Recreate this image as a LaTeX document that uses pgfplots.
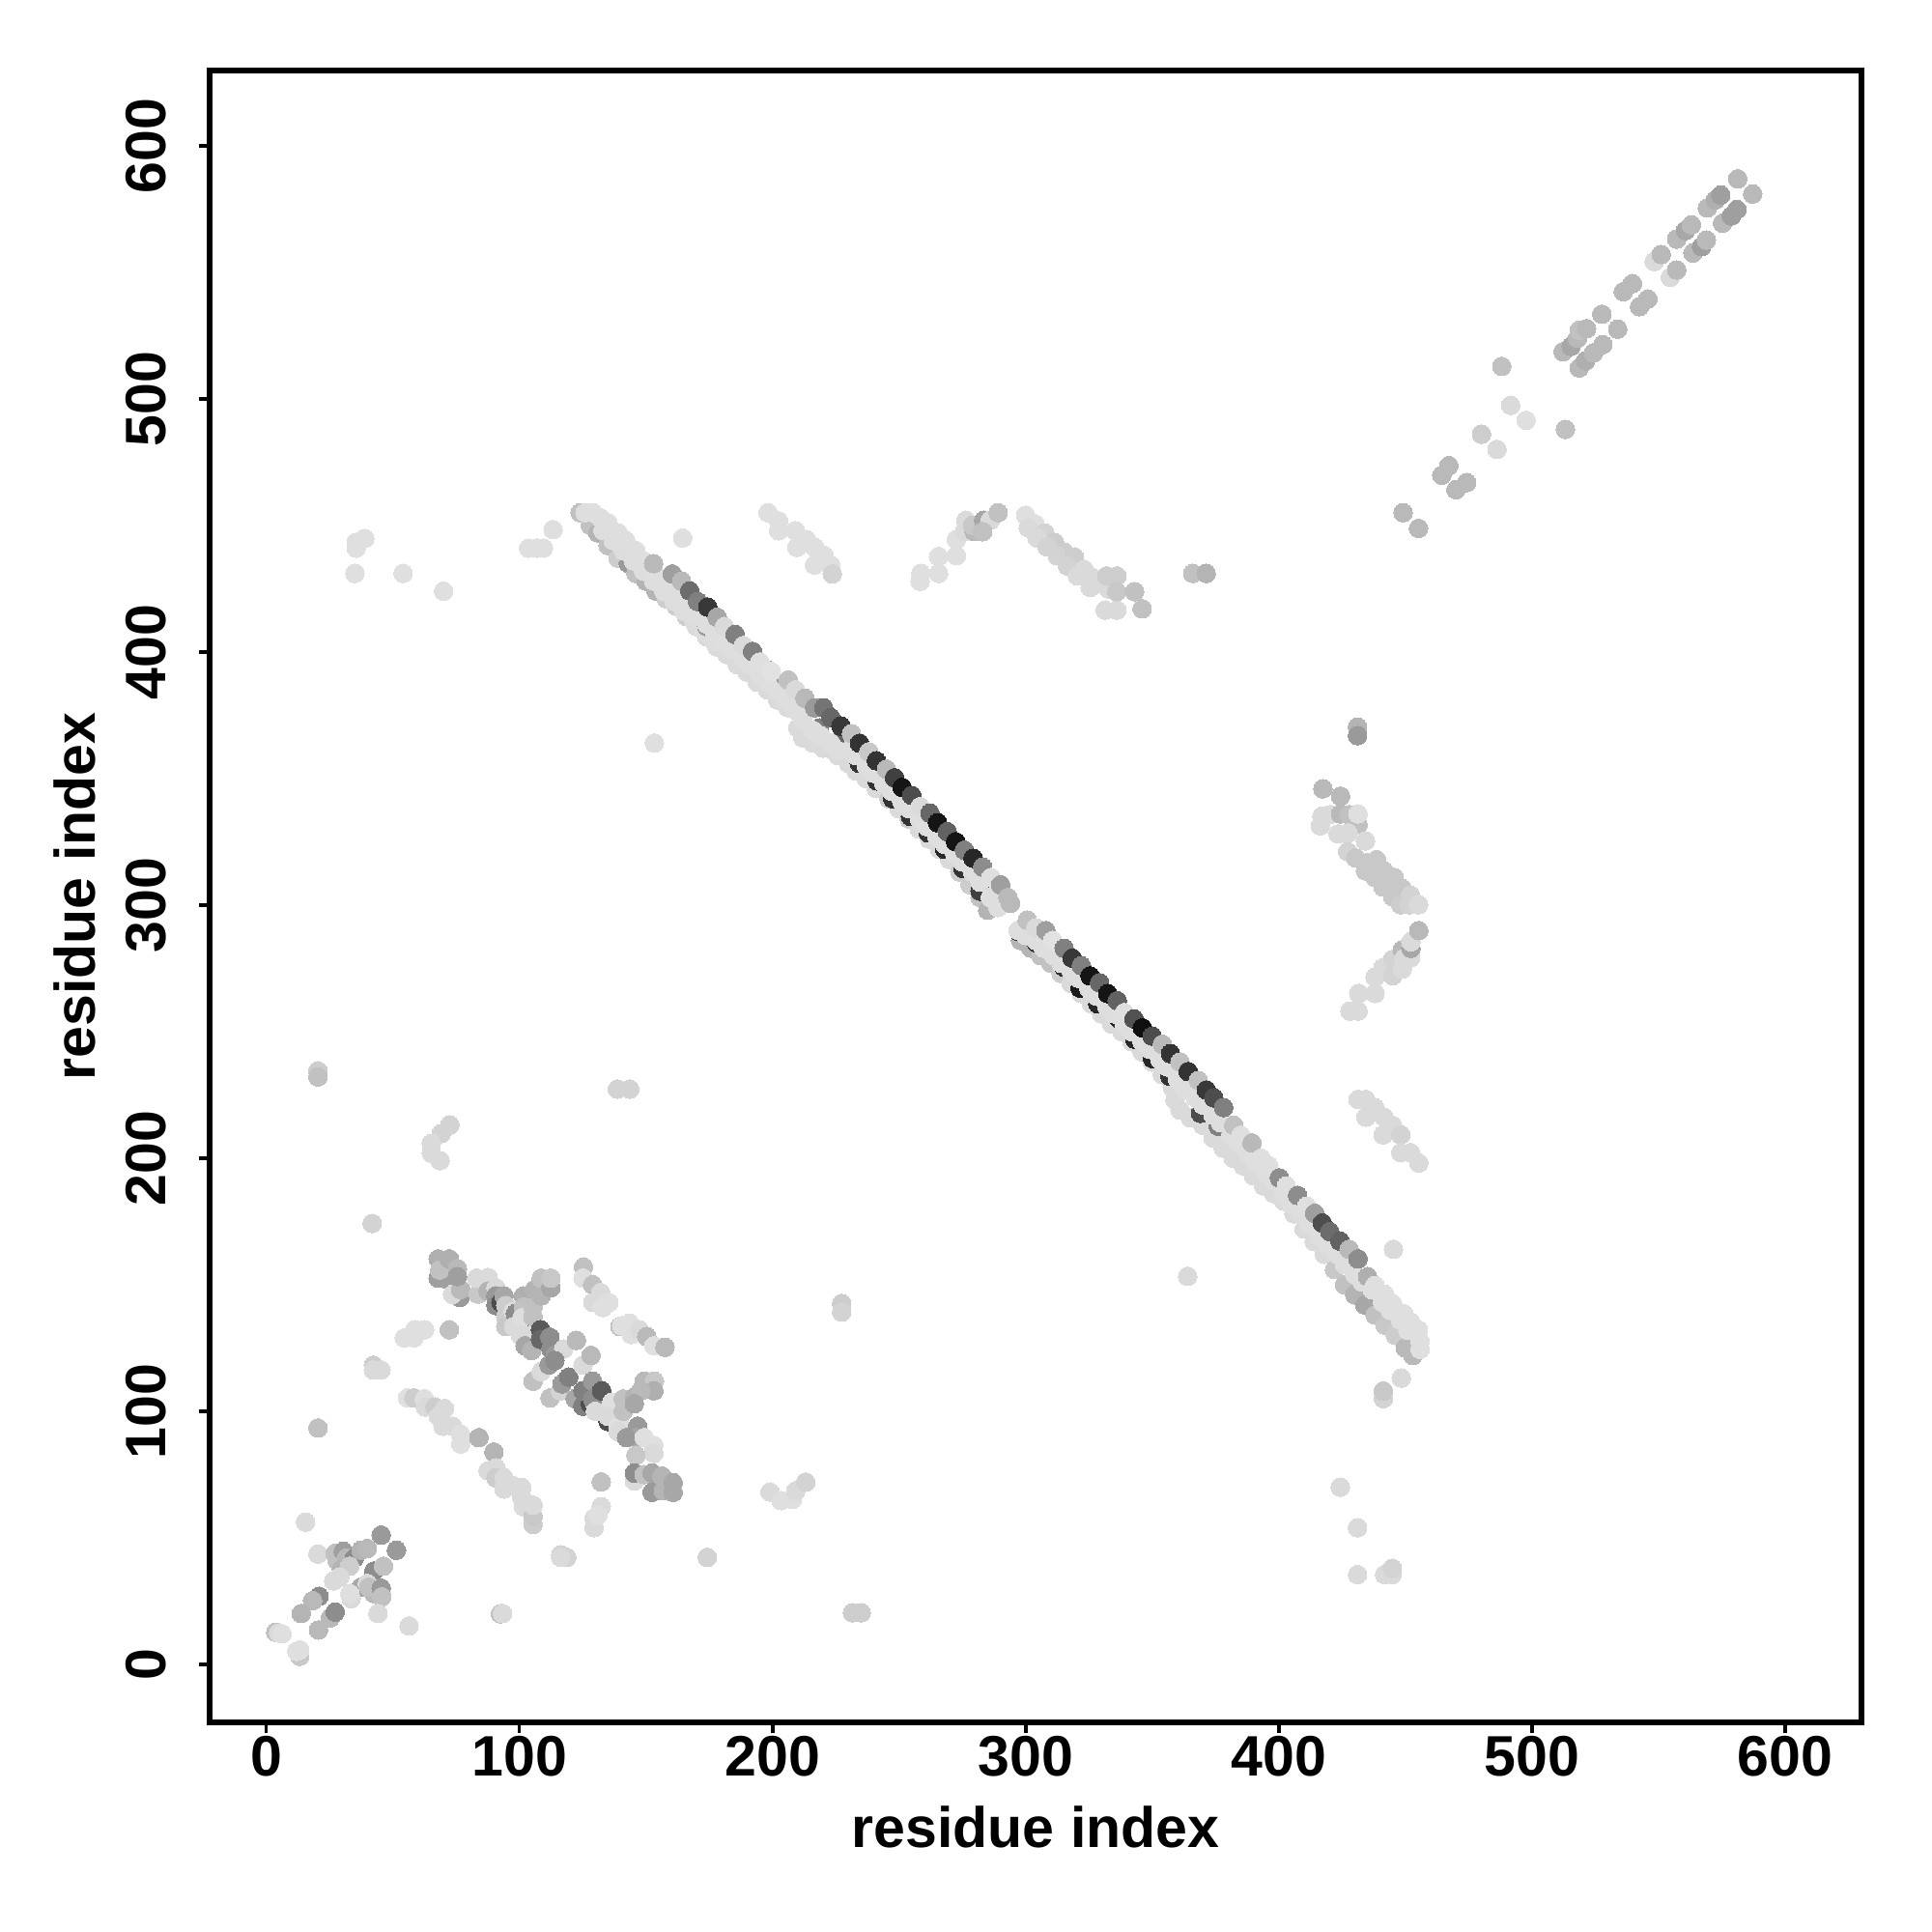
\documentclass[border=0pt]{standalone}
\usepackage{fontspec}
\setmainfont{Liberation Sans}
\usepackage{pgfplots}
\pgfplotsset{compat=1.18}
\definecolor{lite}{gray}{0.87}
\pgfplotsset{
 dots/.style={scatter,only marks,mark=*,mark size=2.75pt,scatter src=explicit,line width=0pt,
   scatter/use mapped color={draw=mapped color,fill=mapped color}},
 lite/.style={only marks,mark=*,mark size=2.75pt,color=lite,line width=0pt}
}
\begin{document}
\begin{tikzpicture}
\path[use as bounding box] (-2.17cm,-2.17cm) rectangle (17.83cm,17.83cm);
\begin{axis}[
 at={(0,0)},anchor=south west,scale only axis,width=17.1cm,height=17.1cm,
 xmin=-22.4,xmax=630.2,ymin=-22.9,ymax=629.7,
 colormap/blackwhite,point meta min=0,point meta max=1,
 axis line style={line width=0.55mm,black},
 tick style={line width=0.35mm,black},
 major tick length=1.1mm,
 tick align=outside,xtick pos=bottom,ytick pos=left,
 xtick={0,100,...,600},ytick={0,100,...,600},
 /pgf/number format/assume math mode=true,
 /pgf/number format/.cd,set thousands separator={},1000 sep={},/pgfplots/.cd,
 tick label style={font=\fontsize{16.8}{20}\selectfont\bfseries},
 yticklabel style={rotate=90,anchor=center,yshift=5.5mm},
 xticklabel style={anchor=center,yshift=-2.4mm},
 xlabel={residue index},ylabel={residue index},
 label style={font=\fontsize{16.8}{20}\selectfont\bfseries},
 xlabel style={at={(axis description cs:0.5,-0.0634)},anchor=center},
 ylabel style={at={(axis description cs:-0.0815,0.5)},anchor=center,rotate=0},
]
% far-field points
\addplot[dots] table[meta index=2,row sep=\\]{
35.5 443.3 .87\\38.9 444.8 .87\\35.5 441 .87\\35 431 .87\\54 431 .87\\70 424 .87\\
103.6 441 .87\\107 441 .87\\109.5 441 .87\\113.3 448.3 .87\\164.5 445 .87\\153.3 364 .87\\
198.2 455 .87\\202.4 451.7 .87\\202.4 447.9 .87\\209 447.9 .87\\209.6 441.3 .87\\213.4 444.4 .87\\216.6 441.3 .87\\216.6 434.3 .87\\220.4 438.1 .87\\223 434.3 .87\\223.6 430.8 .82\\
258.3 427.9 .87\\258.6 431 .87\\265.6 431 .87\\265.6 437.7 .87\\272.6 438.1 .87\\272.6 444.4 .87\\275.8 447.6 .85\\279.6 447.6 .72\\276.4 452 .85\\279 450 .78\\283.4 452 .65\\286 452 .85\\283 447.5 .75\\289.1 455 .75\\
300 454 .87\\303.6 450.6 .87\\301 449 .85\\307.5 447 .82\\304.5 445 .85\\311.4 443.3 .8\\308.5 441.5 .82\\315.3 439.4 .8\\312.5 438 .82\\319.2 437.5 .8\\316.5 434 .82\\323 432.6 .85\\320.5 430 .85\\326 429.7 .85\\329.4 427.2 .85\\325.5 425.5 .85\\332.8 424.8 .85\\331.4 416.5 .85\\336 416.5 .85\\336 430 .8\\332 430 .8\\336 423.8 .78\\343 423.8 .75\\346 417 .75\\
366 431 .75\\371.3 431 .7\\
431.1 370.3 .7\\431.1 366.9 .6\\
20.4 234.5 .8\\20.4 232.1 .75\\41.8 174.2 .82\\138.7 227.3 .82\\143.6 227.3 .82\\
72.5 213.1 .82\\69.1 209.7 .82\\65.2 205.8 .85\\65.2 202 .85\\68.6 199 .85\\
42.3 118.2 .8\\42.3 116.3 .85\\45.3 116.3 .85\\20.4 93.4 .75\\
227.3 142.6 .8\\227.3 139.2 .82\\364 153.3 .85\\
199 68.1 .85\\203.4 64.7 .87\\207.8 65.2 .87\\209.2 68.6 .85\\213.1 72 .82\\
174.2 42.3 .82\\116.3 43.3 .82\\118.7 42.3 .82\\116.3 42.3 .85\\
92.5 20 .75\\231.6 20.4 .8\\235 20.4 .8\\
424.3 70 .85\\431.1 54 .85\\431.1 35.5 .85\\441.8 35.5 .85\\444.8 35.5 .85\\444.8 38 .82\\
441.3 105 .82\\441.3 108 .78\\448.4 113.1 .85\\445.3 164 .85\\
}; 
% top-right diagonal
\addplot[dots] table[meta index=2,row sep=\\]{
449.1 455 .72\\455.2 448.8 .72\\464.4 469.8 .72\\467.2 473.6 .72\\470 464.1 .72\\474.2 466.9 .72\\480.1 486 .8\\486.2 480 .85\\491.6 497.4 .85\\497.7 491.5 .87\\488.1 512.8 .75\\513.2 487.9 .75\\
512.3 518.6 .72\\515.5 520.7 .65\\518 523.9 .72\\518.7 527.1 .75\\521.6 527.7 .72\\
518.7 512.2 .72\\521.2 515 .68\\524.4 518.2 .72\\528 521.4 .72\\
527.6 533.4 .72\\533.9 527.5 .72\\536.1 542.3 .72\\539.7 545.5 .72\\542.5 536.4 .72\\545.8 539.4 .72\\
548.3 554.2 .85\\551.1 557 .72\\554.7 548 .85\\557.2 550.9 .72\\
557.2 563.1 .72\\560.7 566.5 .65\\563 568.7 .72\\563.6 557.6 .72\\567 560.1 .62\\568.9 562.7 .72\\
569.3 575.4 .72\\572.5 578.6 .68\\574.6 580.5 .62\\575.3 569.4 .72\\578.8 572.2 .62\\581 574.8 .62\\581.3 586.9 .72\\587.2 580.9 .72\\
};
% right clusters
\addplot[dots] table[meta index=2,row sep=\\]{
417.4 345.9 .72\\424.4 343 .72\\
417 335.1 .85\\416.4 331.3 .85\\420.2 335.7 .85\\424.4 336 .72\\427.8 335.7 .75\\431.3 331.7 .75\\431.3 336 .87\\423.4 328.1 .85\\427.4 328.5 .85\\434.2 325.3 .85\\427.2 321.1 .82\\430.4 318.6 .78\\434.8 316.7 .78\\438.6 317.9 .78\\434.2 313.5 .78\\438 310.9 .78\\441.6 313.5 .78\\445.6 310.9 .78\\441.2 307.1 .78\\448.8 306.5 .78\\445 303.3 .78\\448.2 300.1 .8\\452 303.9 .82\\451.5 300.1 .82\\455.2 300.1 .85\\
428.1 258.1 .85\\431.3 258.1 .85\\431.6 265.1 .85\\438 265.1 .85\\438 271.5 .85\\441.2 275.3 .85\\445 272.1 .82\\445 278.5 .82\\448.8 282.3 .72\\448.8 274.7 .85\\449.5 279 .85\\452 279.1 .85\\452.2 282.9 .65\\452.2 285.5 .85\\455.3 289.9 .72\\
431.3 223.2 .85\\434.4 223.2 .85\\438 219.9 .85\\434.4 216.2 .85\\441.6 216.2 .85\\445 212.9 .85\\441.2 209.2 .85\\448.2 209.2 .82\\448.2 202.2 .85\\452 202.2 .85\\455.3 198.1 .85\\
};
% bottom-left corner
\addplot[dots] table[meta index=2,row sep=\\]{
15.5 56.2 .85\\20.4 43.6 .85\\27.2 43.9 .75\\28 41 .75\\30.4 44.7 .62\\31.6 42 .72\\34.8 42 .55\\37.4 45.1 .7\\39.9 45.8 .72\\45.4 51.1 .6\\51.4 45.1 .6\\
26.6 33 .85\\29.7 37.5 .7\\32.9 38.8 .8\\29 34.5 .85\\42.5 36.9 .55\\46.3 38.8 .75\\37.4 30.5 .65\\39.9 32 .85\\42.5 28 .72\\40.5 30.5 .75\\45.4 30.1 .6\\45.6 26.7 .75\\
20.8 26.9 .55\\18.3 25.2 .72\\13.8 20.1 .7\\25.3 18.4 .72\\27.2 20.7 .55\\20.6 13.6 .72\\33.5 26 .85\\33 28 .87\\44.1 20.1 .85\\56.4 15.2 .85\\93.3 20.1 .85\\
3.7 12.7 .75\\4.9 12.4 .85\\6.2 12.1 .87\\13.2 3.2 .78\\12 5.2 .87\\13.2 5.7 .87\\
};
% second anti-diagonal and neighbours
\addplot[dots] table[meta index=2,row sep=\\]{
54.5 129 .87\\58.7 132.2 .87\\58.3 129 .87\\62.5 132.2 .87\\72.3 132.2 .75\\
55.8 105.3 .87\\58.3 105.3 .8\\62.5 104.9 .87\\62.8 101.7 .85\\66.6 101.7 .8\\70.4 101.1 .85\\69.8 94.1 .85\\68 98 .85\\73.6 94.1 .85\\76.8 90.9 .87\\76.8 87.1 .87\\84 89.6 .7\\89.9 83.9 .7\\87.6 76.5 .85\\90.7 77.6 .85\\90.7 73.7 .8\\93.9 73.7 .85\\93.9 69.3 .85\\97.7 70.6 .85\\100.9 69.9 .85\\100.9 66 .85\\101.6 62.3 .85\\105.4 55.3 .8\\105.4 58.5 .78\\105.4 62.9 .85\\
132.3 72.1 .75\\129.5 54 .85\\129.5 57.8 .85\\132.3 62.3 .85\\131 59 .87\\
125.3 157 .75\\125.1 152.6 .87\\128.9 150 .75\\131 145 .72\\132.1 146.9 .85\\129 143 .85\\133 141 .87\\132.7 141.2 .87\\135.3 143 .87\\
139.7 133.5 .75\\140.4 133.8 .87\\143.5 134.8 .87\\144.2 130.3 .87\\147.4 132.2 .85\\150.3 129.5 .72\\153.1 125.9 .87\\157.5 125.3 .72\\
67.9 152.6 .62\\71.7 152 .62\\67.9 160.2 .68\\68.5 155.8 .75\\72.3 160.2 .68\\75.5 156.4 .72\\76.5 145 .6\\73.6 146.2 .85\\76.8 148.1 .72\\75.5 153.2 .62\\
83.7 146.3 .78\\83.1 152.6 .85\\87.6 152.9 .85\\87.6 147.5 .7\\90.7 148.8 .85\\90.7 145.6 .6\\90.7 141.8 .55\\
92.7 143 .3\\95.8 138.6 .3\\99.7 139.2 .3\\100.3 134.8 .3\\
93.9 145.6 .65\\94.6 141.8 .8\\94.6 137.3 .8\\97.5 139.5 .86\\94.6 133.5 .78\\98.4 138.6 .55\\97.7 133.5 .85\\101.6 145.6 .68\\101.6 141.2 .75\\101 137 .86\\105.4 141.2 .75\\105.4 137.3 .75\\106 148.1 .7\\108.6 145.6 .7\\108.6 152.6 .75\\112.4 148.8 .65\\112.4 152.6 .78\\
100.4 130 .85\\104 130 .85\\102.2 125.9 .65\\104.8 124 .7\\108.3 132.2 .35\\108.3 128.4 .4\\112 129.3 .55\\112.4 124.6 .55\\114.2 122.4 .6\\117.5 124.6 .85\\122.5 128 .72\\
105.4 111.9 .75\\108.6 115.7 .85\\111.7 118.3 .6\\114 120 .55\\
112.1 105.3 .75\\116.2 108.1 .82\\116.8 110.8 .6\\119.5 113.5 .5\\125.1 118.2 .85\\128.3 122.1 .72\\
122 105 .65\\125 102 .5\\128 103 .3\\132 100 .3\\135 96 .3\\139 97 .3\\
129.5 103.5 .87\\134 99.5 .87\\139.5 96.5 .87\\
125.1 108.1 .5\\128.9 111.9 .6\\128.9 104.9 .55\\132.5 108.1 .35\\130 100 .85\\136.5 103.6 .87\\135 98 .85\\139 94 .87\\141 104.9 .75\\141 100 .75\\139 92 .85\\145.4 105.5 .7\\149.3 111.9 .72\\153.3 111.9 .78\\153.1 108.1 .68\\148 108.1 .72\\145.4 103 .65\\
146.7 94.1 .6\\146 89.6 .65\\142.3 89.6 .6\\149.3 89.6 .87\\153.1 86.5 .87\\153.1 83.4 .85\\146 82.6 .78\\145.4 72.5 .85\\145.4 75.6 .55\\149.3 75 .75\\152.4 75.6 .65\\152.4 68 .6\\156.3 74.4 .7\\156.9 68.6 .7\\160.7 71.8 .65\\160.7 68 .65\\
};
% main band, lower rows
\addplot[dots] table[meta index=2,row sep=\\]{
124 455 .75\\128 450 .75\\131 447 .7\\135 442 .75\\139 437 .8\\143 435 .6\\146 431 .75\\150 428 .7\\154 424 .7\\158 421 .8\\162 418 .8\\166 414 .8\\170 410 .85\\174 406 .85\\178 402 .85\\182 399 .85\\186 395 .85\\190 392 .85\\194 388 .85\\198 385 .85\\202 381 .85\\206 378 .85\\210 370 .85\\212 366 .85\\216 364 .85\\220 362 .85\\222 362 .85\\226 359 .85\\230 356 .85\\233 353 .85\\237 350 .85\\241 346 .85\\246 342 .8\\250 338 .85\\254 334 .8\\258 330 .85\\262 326 .85\\266 322 .85\\270 318 .85\\274 313 .8\\278 308 .8\\282 303 .75\\285 298 .7\\
133 448 .86\\137 444 .86\\141 440 .86\\145 436 .86\\149 432 .86\\153 428 .86\\157 424 .86\\161 420 .86\\165 416 .86\\169 412 .86\\173 408 .86\\177 404 .86\\
298 286 .7\\302 283 .7\\306 280 .75\\310 277 .75\\314 273 .8\\318 269 .85\\322 265 .85\\326 261 .85\\330 257 .85\\334 253 .85\\338 250 .85\\342 246 .85\\346 242 .85\\350 238 .85\\354 233 .85\\358 228 .85\\359 223 .85\\361 219 .85\\365 216 .85\\370 213 .85\\374 208 .85\\378 204 .85\\382 200 .85\\386 197 .85\\390 193 .85\\394 189 .85\\398 186 .85\\402 183 .85\\406 178 .85\\410 172 .85\\414 167 .85\\418 162 .85\\422 156 .78\\426 150 .75\\430 146 .7\\434 142 .65\\438 138 .75\\442 134 .78\\446 130 .8\\450 125 .72\\453 122 .72\\
};
% crescents
\addplot[dots] table[meta index=2,row sep=\\]{
158.5 429 .6\\165.5 421 .5\\174 410 .6\\198 393 .6\\204.5 387 .6\\212 375.5 .5\\218.5 370 .5\\224.8 364 .4\\
234.3 356 .2\\241.3 349 .2\\247.5 342 .2\\254.5 335 .2\\261.5 328.5 .2\\268 322 .15\\275.2 314.5 .2\\282 305.5 .25\\
297.3 289.5 .2\\304.3 285 .2\\315.1 275.5 .2\\321.5 267.2 .1\\328.5 261 .15\\336.7 255.2 .15\\343.1 247 .15\\350.1 239.3 .15\\357 232.3 .2\\369.1 217.7 .3\\376.1 212.6 .5\\
};
% main band, light row
\addplot[lite] table[row sep=\\]{
126 455\\129 455\\132 453\\135 451\\139 447\\142 444\\146 440\\149 436\\153 432\\156 429\\160 425\\163 422\\167 418\\170 415\\174 411\\177 408\\181 404\\184 401\\188 398\\191 395\\195 391\\198 388\\202 384\\205 381\\209 377\\212 373\\216 369\\219 367\\223 364\\226 361\\230 361\\233 359\\237 355\\240 352\\244 348\\247 345\\251 341\\254 338\\258 334\\261 331\\265 327\\268 324\\272 320\\275 317\\279 313\\282 309\\286 303\\289 299\\
297 290\\300 288\\304 286\\307 283\\311 280\\314 277\\318 274\\321 271\\325 267\\328 264\\332 260\\335 257\\339 253\\342 250\\346 246\\349 243\\353 239\\356 236\\360 231\\363 227\\367 224\\370 221\\374 217\\377 214\\381 209\\384 206\\388 202\\391 198\\395 194\\398 191\\402 186\\405 182\\409 178\\412 174\\416 169\\419 166\\423 162\\426 158\\430 154\\433 151\\
};
% main band, upper row
\addplot[dots] table[meta index=2,row sep=\\]{
153 434.9 .72\\160.4 430.8 .62\\164.1 427.9 .72\\167.3 424.1 .42\\170.4 419.9 .5\\174.4 417.7 .22\\178.1 413.7 .65\\181 410 .85\\185.2 406.9 .5\\188.4 402.5 .85\\192.1 400.2 .5\\195 396 .87\\199.5 392.3 .88\\206.2 388.9 .75\\209 385 .85\\212.8 381.7 .72\\216.6 377.9 .6\\220.2 377.9 .45\\223 374.1 .4\\227 370.7 .22\\231.2 367.7 .75\\234.4 363.9 .2\\238 360.5 .78\\241 357 .2\\245 353.7 .72\\248.2 350.3 .25\\251.2 346.5 .08\\255 343.3 .3\\258.3 338.9 .85\\262.2 336.3 .4\\265.2 332.5 .08\\269 329 .38\\272.3 325 .08\\275.8 321.7 .5\\279.2 318.5 .15\\283 315 .55\\286.3 310.9 .87\\290.1 308 .62\\293 303 .72\\294 300.7 .72\\
300.6 294 .75\\304 291 .85\\308 289.9 .62\\310.7 286 .88\\315.2 282.9 .5\\318.4 279 .22\\322 276 .5\\325.4 272 .08\\329.2 269.3 .4\\332.4 265 .08\\336.2 262.2 .38\\339 257.5 .87\\342.8 255 .32\\346.1 251.5 .06\\350 248.2 .3\\354 245 .72\\357.2 241.3 .2\\361 238 .75\\364.2 234.2 .2\\368.2 230.7 .75\\371.4 226.9 .22\\374.3 223.8 .3\\378.2 220 .5\\382.2 213 .75\\385 209 .87\\389.4 206 .72\\393 200 .87\\396 197 .87\\400.2 192.2 .55\\403 189 .87\\407.4 185.3 .55\\411 181 .87\\414.2 178.2 .62\\417.2 174.4 .3\\420.1 171 .42\\424.2 167.2 .38\\427.8 164 .72\\431.3 160.2 .55\\435.1 153.2 .68\\
438 149.7 .87\\437 148 .87\\441.8 146.2 .87\\441 143 .87\\445 142.4 .87\\444 140 .87\\448 136 .87\\449.4 138.5 .87\\451 132 .87\\452 135.4 .87\\455.1 132.2 .87\\455.8 127.7 .87\\455.8 124.5 .87\\
};
\end{axis}
\end{tikzpicture}
\end{document}
